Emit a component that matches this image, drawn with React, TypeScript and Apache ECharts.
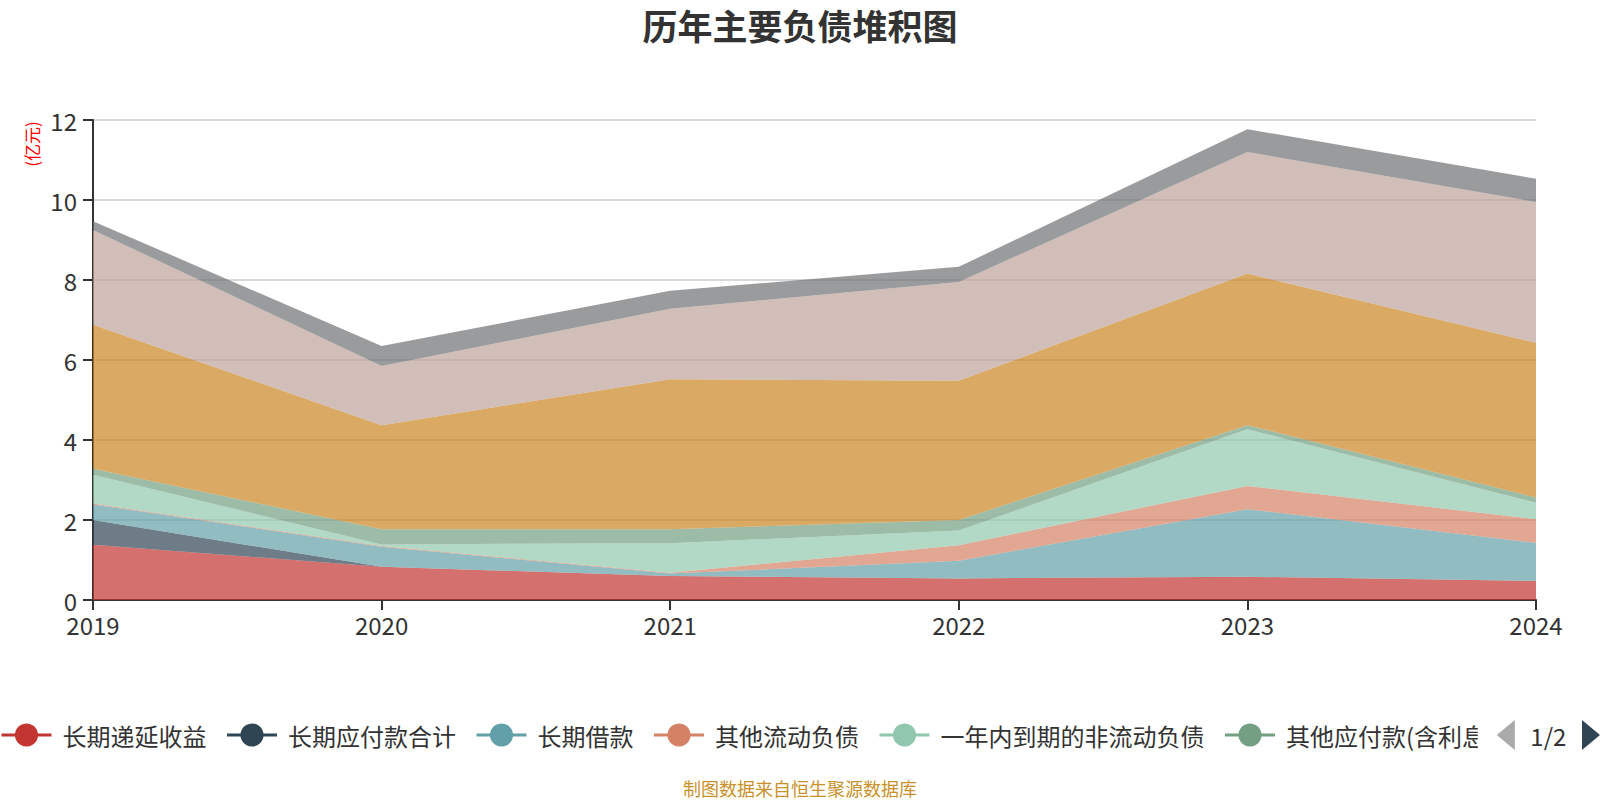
import React, { useEffect, useRef } from "react";
import * as echarts from "echarts";

const years = ["2019", "2020", "2021", "2022", "2023", "2024"];
const seriesNames = [
  "长期递延收益",
  "长期应付款合计",
  "长期借款",
  "其他流动负债",
  "一年内到期的非流动负债",
  "其他应付款(含利息和股利)",
  "应付票据及应付账款",
  "短期借款",
  "应付职工薪酬",
];
const deferredIncome = [1.38, 0.83, 0.6, 0.54, 0.58, 0.48];
const longPayables = [0.62, 0, 0, 0, 0, 0];
const longLoans = [0.39, 0.5, 0.06, 0.44, 1.69, 0.95];
const otherCurrent = [0.02, 0.02, 0.02, 0.39, 0.58, 0.59];
const dueWithinYear = [0.72, 0.04, 0.74, 0.37, 1.42, 0.41];
const otherPayables = [0.15, 0.38, 0.35, 0.26, 0.1, 0.13];
const accountsPayable = [3.6, 2.6, 3.75, 3.48, 3.79, 3.87];
const shortLoans = [2.37, 1.48, 1.76, 2.47, 3.04, 3.52];
const staffPay = [0.22, 0.5, 0.45, 0.38, 0.57, 0.58];
const seriesValues = [
  deferredIncome,
  longPayables,
  longLoans,
  otherCurrent,
  dueWithinYear,
  otherPayables,
  accountsPayable,
  shortLoans,
  staffPay,
];
const yTicks = { min: 0, max: 12, interval: 2 };

const palette = [
  "#c23531",
  "#2f4554",
  "#61a0a8",
  "#d48265",
  "#91c7ae",
  "#749f83",
  "#ca8622",
  "#bda29a",
  "#6e7074",
  "#546570",
  "#c4ccd3",
];

const FONT = "'Noto Sans CJK SC', 'Microsoft YaHei', sans-serif";

export default function App() {
  const ref = useRef<HTMLDivElement>(null);
  useEffect(() => {
    document.body.style.margin = "0";
    if (!ref.current) return;
    const chart = echarts.init(ref.current, null, { renderer: "svg" });
    chart.setOption({
      animation: false,
      color: palette,
      textStyle: { fontFamily: FONT },
      title: {
        text: "历年主要负债堆积图",
        left: "center",
        top: 2,
        textStyle: { fontSize: 35, fontWeight: "bold", color: "#333", fontFamily: FONT },
      },
      graphic: [
        {
          type: "text",
          x: 31,
          y: 144,
          rotation: Math.PI / 2,
          style: {
            text: "(亿元)",
            fill: "#ff0000",
            fontSize: 17,
            fontFamily: FONT,
            textAlign: "center",
            textVerticalAlign: "middle",
          },
        },
        {
          type: "text",
          x: 800,
          y: 788,
          style: {
            text: "制图数据来自恒生聚源数据库",
            fill: "#c8912a",
            fontSize: 18,
            fontFamily: FONT,
            textAlign: "center",
            textVerticalAlign: "middle",
          },
        },
      ],
      legend: {
        type: "scroll",
        left: 0,
        right: 0,
        top: 720,
        padding: 0,
        itemWidth: 50,
        itemHeight: 29,
        itemGap: 19,
        lineStyle: { width: 3, opacity: 1 },
        textStyle: { fontSize: 24, color: "#333", fontFamily: FONT, padding: [0, 0, 0, 6] },
        pageIconSize: 30,
        pageIconColor: "#2f4554",
        pageIconInactiveColor: "#aaa",
        pageTextStyle: { fontSize: 24, color: "#333", fontFamily: FONT },
        data: seriesNames,
      },
      grid: { left: 93, right: 64, top: 120, bottom: 200 },
      xAxis: {
        type: "category",
        data: years,
        boundaryGap: false,
        axisLine: { lineStyle: { color: "#333", width: 2 } },
        axisTick: { length: 10, lineStyle: { color: "#333", width: 2 } },
        axisLabel: { fontSize: 24, color: "#333", margin: 12, fontFamily: FONT },
      },
      yAxis: {
        type: "value",
        min: yTicks.min,
        max: yTicks.max,
        interval: yTicks.interval,
        axisLine: { show: true, lineStyle: { color: "#333", width: 2 } },
        axisTick: { show: true, length: 10, lineStyle: { color: "#333", width: 2 } },
        axisLabel: { fontSize: 24, color: "#333", margin: 16, fontFamily: FONT },
        splitLine: { lineStyle: { color: "#ccc", width: 1.5 } },
      },
      series: seriesNames.map((name, i) => ({
        name,
        type: "line",
        stack: "total",
        data: seriesValues[i],
        symbol: "circle",
        showSymbol: false,
        lineStyle: { width: 0 },
        areaStyle: { opacity: 0.7 },
      })),
    });
    return () => chart.dispose();
  }, []);
  return <div ref={ref} style={{ width: 1600, height: 800 }} />;
}
